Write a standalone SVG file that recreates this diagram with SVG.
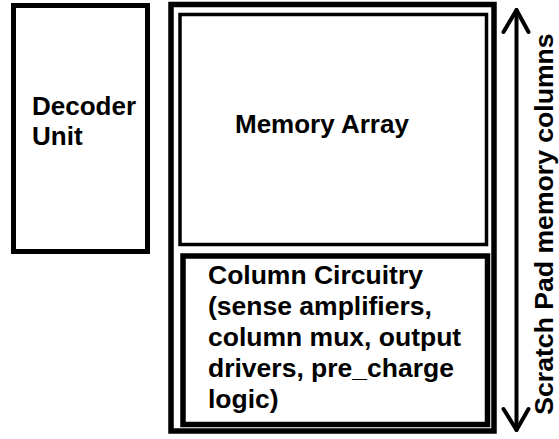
<svg xmlns="http://www.w3.org/2000/svg" width="559" height="439" viewBox="0 0 559 439">
  <style>
    .box { fill: none; stroke: #000; }
    .lbl { font-family: "Liberation Sans", Arial, sans-serif; font-weight: bold; font-size: 26px; fill: #000; }
    .col { font-size: 26.5px; }
    .side { font-size: 26.6px; }
    .arrow { fill: none; stroke: #000; stroke-width: 4; stroke-linecap: round; stroke-linejoin: round; }
  </style>
  <rect width="559" height="439" fill="#fff"/>

  <g id="decoder-unit">
    <rect class="box" x="13.5" y="5.5" width="134" height="246" stroke-width="5"/>
    <text class="lbl" x="32" y="115">Decoder</text>
    <text class="lbl" x="32" y="145">Unit</text>
  </g>

  <g id="scratch-pad">
    <rect class="box" x="171" y="4.5" width="323" height="426.5" stroke-width="5.5"/>
  </g>

  <g id="memory-array">
    <rect class="box" x="180" y="14.5" width="306.5" height="230" stroke-width="3.5"/>
    <text class="lbl" x="235" y="133">Memory Array</text>
  </g>

  <g id="column-circuitry">
    <rect class="box" x="183" y="256" width="304.5" height="168.5" stroke-width="5.5"/>
    <text class="lbl col" x="208">
      <tspan x="208" y="284">Column Circuitry</tspan>
      <tspan x="208" y="315">(sense amplifiers,</tspan>
      <tspan x="208" y="346">column mux, output</tspan>
      <tspan x="208" y="377">drivers, pre_charge</tspan>
      <tspan x="208" y="408">logic)</tspan>
    </text>
  </g>

  <g id="connectors">
    <line class="arrow" x1="516.5" y1="10" x2="516.5" y2="430"/>
    <polyline class="arrow" points="503.5,32 516.5,10 528.5,32"/>
    <polyline class="arrow" points="503.5,409 516.5,430 528.5,409"/>
  </g>

  <text class="lbl side" text-anchor="middle" transform="translate(553 224) rotate(-90)">Scratch Pad memory columns</text>
</svg>
